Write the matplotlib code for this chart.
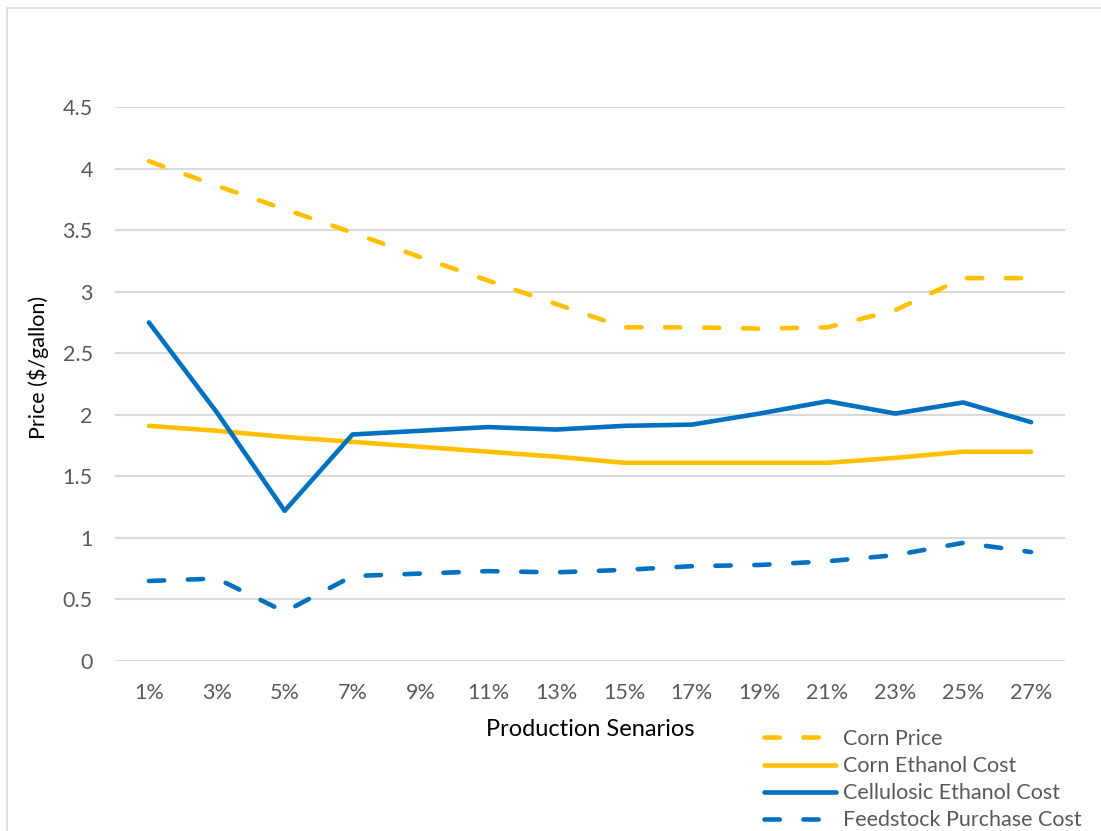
import numpy as np
import matplotlib
matplotlib.use("Agg")
import matplotlib.pyplot as plt
from matplotlib.patches import Rectangle

# --- data ---
scenarios = ["1%", "3%", "5%", "7%", "9%", "11%", "13%", "15%", "17%", "19%", "21%", "23%", "25%", "27%"]
corn_price = [4.06, 3.86, 3.67, 3.48, 3.28, 3.09, 2.90, 2.71, 2.71, 2.70, 2.71, 2.85, 3.11, 3.11]
corn_ethanol = [1.91, 1.87, 1.82, 1.78, 1.74, 1.70, 1.66, 1.61, 1.61, 1.61, 1.61, 1.65, 1.70, 1.70]
cellulosic = [2.75, 2.02, 1.22, 1.84, 1.87, 1.90, 1.88, 1.91, 1.92, 2.01, 2.11, 2.01, 2.10, 1.94]
feedstock = [0.65, 0.67, 0.40, 0.69, 0.71, 0.73, 0.72, 0.74, 0.77, 0.78, 0.81, 0.86, 0.96, 0.885]
y_ticks = [0, 0.5, 1, 1.5, 2, 2.5, 3, 3.5, 4, 4.5]

YELLOW = "#FFC000"
BLUE = "#0070C0"
GRID = "#D9D9D9"
TICK = "#595959"

plt.rcParams["font.family"] = ["Lato", "DejaVu Sans"]
plt.rcParams["lines.scale_dashes"] = False

W, H = 1101, 831
fig = plt.figure(figsize=(W / 100, H / 100), dpi=100)

# outer chart border (cut off on right and bottom in the reference)
fig.patches.append(Rectangle((7 / W, -0.1), 1.2, 1 - 8 / H + 0.1, transform=fig.transFigure,
                             fill=False, edgecolor=GRID, linewidth=1.1))

ax = fig.add_axes([115 / W, (H - 661) / H, 950 / W, 554 / H])
x = np.arange(len(scenarios))

dash = (11, 17)
ax.plot(x, corn_price, color=YELLOW, lw=3.3, dashes=dash, dash_capstyle="round",
        solid_capstyle="round", label="Corn Price")
ax.plot(x, corn_ethanol, color=YELLOW, lw=3.3, solid_capstyle="round", label="Corn Ethanol Cost")
ax.plot(x, cellulosic, color=BLUE, lw=3.3, solid_capstyle="round", label="Cellulosic Ethanol Cost")
ax.plot(x, feedstock, color=BLUE, lw=3.3, dashes=dash, dash_capstyle="round",
        label="Feedstock Purchase Cost")

ax.set_xlim(-0.5, len(scenarios) - 0.5)
ax.set_ylim(0, 4.5)
ax.set_yticks(y_ticks)
ax.set_yticklabels([f"{v:g}" for v in y_ticks])
ax.set_xticks(x)
ax.set_xticklabels(scenarios)
ax.yaxis.grid(True, color=GRID, lw=1.5)
ax.set_axisbelow(True)
for s in ax.spines.values():
    s.set_visible(False)
ax.tick_params(axis="both", length=0, labelsize=15.5, labelcolor=TICK)
ax.tick_params(axis="y", pad=16)
ax.tick_params(axis="x", pad=16)

# axis titles placed like the Excel original
fig.text(590 / W, 1 - 730 / H, "Production Senarios", fontsize=17, ha="center", va="center")
fig.text(38 / W, 1 - 367 / H, "Price ($/gallon)", fontsize=15.5, rotation=90,
         ha="center", va="center")

fig.legend(loc="upper left", bbox_to_anchor=(764 / W, 1 - 729 / H), frameon=False,
           fontsize=15.5, labelcolor=TICK, handlelength=3.35, handletextpad=0.33,
           labelspacing=0.33, borderpad=0, borderaxespad=0)

fig.savefig("out.png", dpi=100)
